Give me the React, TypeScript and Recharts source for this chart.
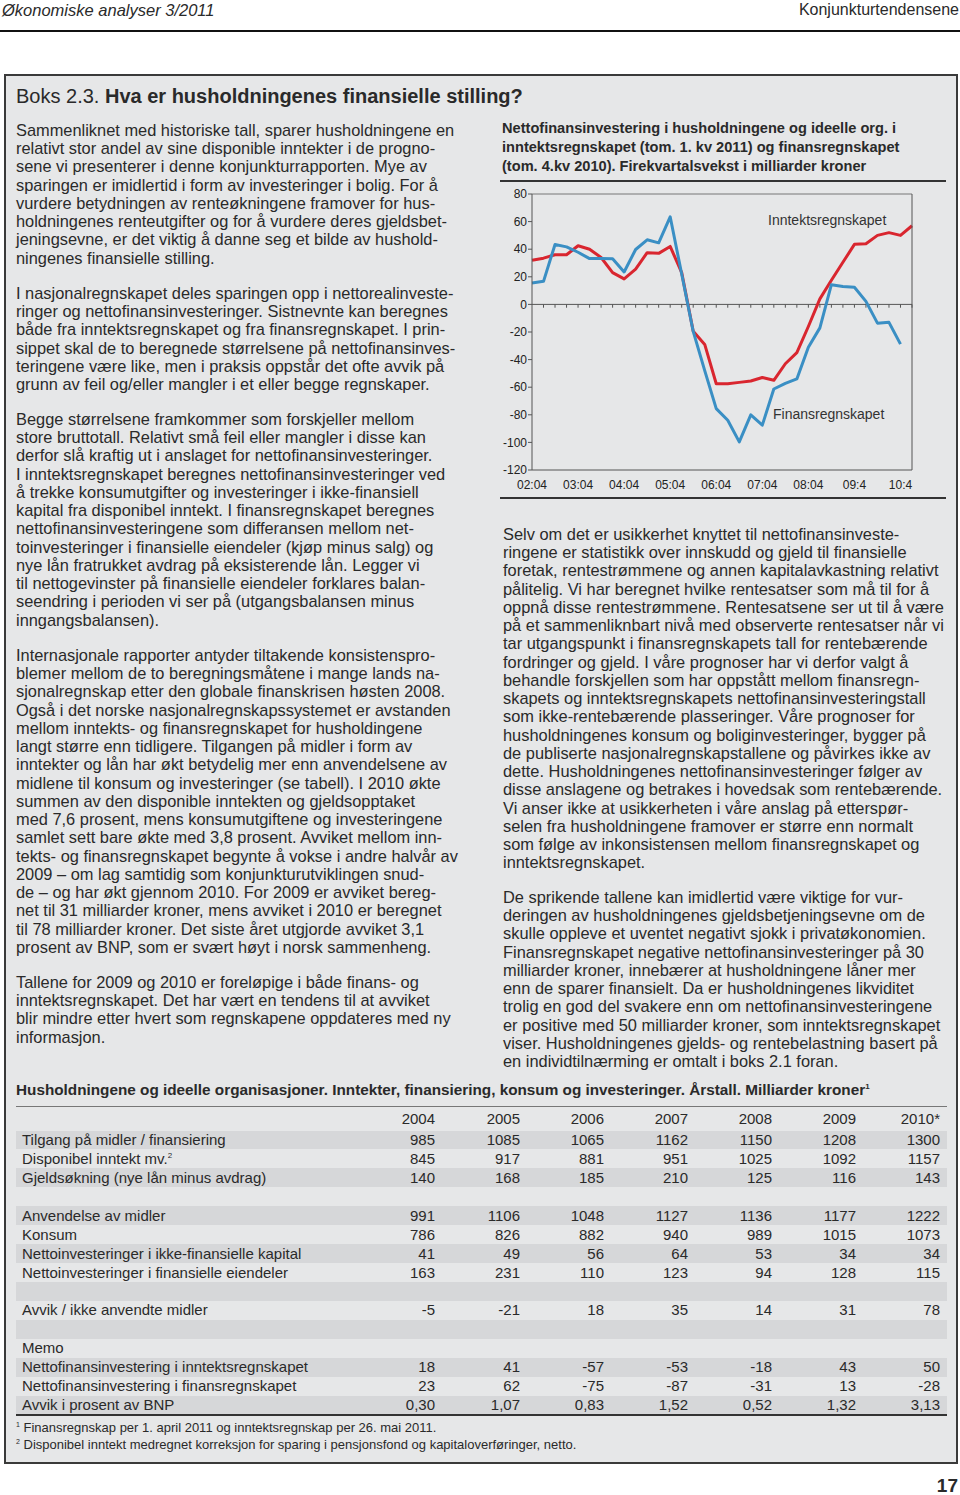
import React from 'react';
import { LineChart, Line, XAxis, YAxis, ReferenceLine } from 'recharts';

const xTickLabels = ['02:04', '03:04', '04:04', '05:04', '06:04', '07:04', '08:04', '09:4', '10:4'];
const inntektsregnskapet = [32, 33.5, 36, 36, 42.5, 40, 34, 23, 18.5, 25.5, 37.5, 37, 42, 23, -19.5, -29, -57.5, -57.5, -56.5, -55.5, -53, -55, -43, -35, -16, 4, 17.5, 30.5, 43.5, 44, 50, 52, 50, 57];
const finansregnskapet = [15.5, 16.7, 43.4, 41.7, 37.8, 33.2, 33.2, 33, 23.5, 39.8, 46.8, 44.6, 63.5, 22, -19.6, -48, -75.5, -84, -99.6, -80, -87.5, -61.3, -57.2, -54, -31, -17, 14.3, 13, 12.4, 2.2, -13.6, -13, -28.8];
const yTicks = [-120, -100, -80, -60, -40, -20, 0, 20, 40, 60, 80];

const chartData = inntektsregnskapet.map((v, i) => ({
  i,
  inntekt: v,
  finans: i < finansregnskapet.length ? finansregnskapet[i] : null,
}));
const xTicks = xTickLabels.map((_, k) => k * 4);
const zeroTicks = chartData.map((d) => d.i).filter((i) => i > 0);

const leftParas: string[][] = [
  [
    'Sammenliknet med historiske tall, sparer husholdningene en',
    'relativt stor andel av sine disponible inntekter i de progno-',
    'sene vi presenterer i denne konjunkturrapporten. Mye av',
    'sparingen er imidlertid i form av investeringer i bolig. For å',
    'vurdere betydningen av renteøkningene framover for hus-',
    'holdningenes renteutgifter og for å vurdere deres gjeldsbet-',
    'jeningsevne, er det viktig å danne seg et bilde av hushold-',
    'ningenes finansielle stilling.',
  ],
  [
    'I nasjonalregnskapet deles sparingen opp i nettorealinveste-',
    'ringer og nettofinansinvesteringer. Sistnevnte kan beregnes',
    'både fra inntektsregnskapet og fra finansregnskapet. I prin-',
    'sippet skal de to beregnede størrelsene på nettofinansinves-',
    'teringene være like, men i praksis oppstår det ofte avvik på',
    'grunn av feil og/eller mangler i et eller begge regnskaper.',
  ],
  [
    'Begge størrelsene framkommer som forskjeller mellom',
    'store bruttotall. Relativt små feil eller mangler i disse kan',
    'derfor slå kraftig ut i anslaget for nettofinansinvesteringer.',
    'I inntektsregnskapet beregnes nettofinansinvesteringer ved',
    'å trekke konsumutgifter og investeringer i ikke-finansiell',
    'kapital fra disponibel inntekt. I finansregnskapet beregnes',
    'nettofinansinvesteringene som differansen mellom net-',
    'toinvesteringer i finansielle eiendeler (kjøp minus salg) og',
    'nye lån fratrukket avdrag på eksisterende lån. Legger vi',
    'til nettogevinster på finansielle eiendeler forklares balan-',
    'seendring i perioden vi ser på (utgangsbalansen minus',
    'inngangsbalansen).',
  ],
  [
    'Internasjonale rapporter antyder tiltakende konsistenspro-',
    'blemer mellom de to beregningsmåtene i mange lands na-',
    'sjonalregnskap etter den globale finanskrisen høsten 2008.',
    'Også i det norske nasjonalregnskapssystemet er avstanden',
    'mellom inntekts- og finansregnskapet for husholdingene',
    'langt større enn tidligere. Tilgangen på midler i form av',
    'inntekter og lån har økt betydelig mer enn anvendelsene av',
    'midlene til konsum og investeringer (se tabell). I 2010 økte',
    'summen av den disponible inntekten og gjeldsopptaket',
    'med 7,6 prosent, mens konsumutgiftene og investeringene',
    'samlet sett bare økte med 3,8 prosent. Avviket mellom inn-',
    'tekts- og finansregnskapet begynte å vokse i andre halvår av',
    '2009 – om lag samtidig som konjunkturutviklingen snud-',
    'de – og har økt gjennom 2010. For 2009 er avviket bereg-',
    'net til 31 milliarder kroner, mens avviket i 2010 er beregnet',
    'til 78 milliarder kroner. Det siste året utgjorde avviket 3,1',
    'prosent av BNP, som er svært høyt i norsk sammenheng.',
  ],
  [
    'Tallene for 2009 og 2010 er foreløpige i både finans- og',
    'inntektsregnskapet. Det har vært en tendens til at avviket',
    'blir mindre etter hvert som regnskapene oppdateres med ny',
    'informasjon.',
  ],
];
const leftParaTops = [130, 293, 419, 655, 982];

const rightParas: string[][] = [
  [
    'Selv om det er usikkerhet knyttet til nettofinansinveste-',
    'ringene er statistikk over innskudd og gjeld til finansielle',
    'foretak, rentestrømmene og annen kapitalavkastning relativt',
    'pålitelig. Vi har beregnet hvilke rentesatser som må til for å',
    'oppnå disse rentestrømmene. Rentesatsene ser ut til å være',
    'på et sammenliknbart nivå med observerte rentesatser når vi',
    'tar utgangspunkt i finansregnskapets tall for rentebærende',
    'fordringer og gjeld. I våre prognoser har vi derfor valgt å',
    'behandle forskjellen som har oppstått mellom finansregn-',
    'skapets og inntektsregnskapets nettofinansinvesteringstall',
    'som ikke-rentebærende plasseringer. Våre prognoser for',
    'husholdningenes konsum og boliginvesteringer, bygger på',
    'de publiserte nasjonalregnskapstallene og påvirkes ikke av',
    'dette. Husholdningenes nettofinansinvesteringer følger av',
    'disse anslagene og betrakes i hovedsak som rentebærende.',
    'Vi anser ikke at usikkerheten i våre anslag på etterspør-',
    'selen fra husholdningene framover er større enn normalt',
    'som følge av inkonsistensen mellom finansregnskapet og',
    'inntektsregnskapet.',
  ],
  [
    'De sprikende tallene kan imidlertid være viktige for vur-',
    'deringen av husholdningenes gjeldsbetjeningsevne om de',
    'skulle oppleve et uventet negativt sjokk i privatøkonomien.',
    'Finansregnskapet negative nettofinansinvesteringer på 30',
    'milliarder kroner, innebærer at husholdningene låner mer',
    'enn de sparer finansielt. Da er husholdningenes likviditet',
    'trolig en god del svakere enn om nettofinansinvesteringene',
    'er positive med 50 milliarder kroner, som inntektsregnskapet',
    'viser. Husholdningenes gjelds- og rentebelastning basert på',
    'en individtilnærming er omtalt i boks 2.1 foran.',
  ],
];
const rightParaTops = [534, 897];

const tableYears = ['2004', '2005', '2006', '2007', '2008', '2009', '2010*'];
type Row = { label: string; sup?: string; values: string[] };
const tableRows: Row[] = [
  { label: 'Tilgang på midler / finansiering', values: ['985', '1085', '1065', '1162', '1150', '1208', '1300'] },
  { label: 'Disponibel inntekt mv.', sup: '2', values: ['845', '917', '881', '951', '1025', '1092', '1157'] },
  { label: 'Gjeldsøkning (nye lån minus avdrag)', values: ['140', '168', '185', '210', '125', '116', '143'] },
  { label: '', values: [] },
  { label: 'Anvendelse av midler', values: ['991', '1106', '1048', '1127', '1136', '1177', '1222'] },
  { label: 'Konsum', values: ['786', '826', '882', '940', '989', '1015', '1073'] },
  { label: 'Nettoinvesteringer i ikke-finansielle kapital', values: ['41', '49', '56', '64', '53', '34', '34'] },
  { label: 'Nettoinvesteringer i finansielle eiendeler', values: ['163', '231', '110', '123', '94', '128', '115'] },
  { label: '', values: [] },
  { label: 'Avvik / ikke anvendte midler', values: ['-5', '-21', '18', '35', '14', '31', '78'] },
  { label: '', values: [] },
  { label: 'Memo', values: [] },
  { label: 'Nettofinansinvestering i inntektsregnskapet', values: ['18', '41', '-57', '-53', '-18', '43', '50'] },
  { label: 'Nettofinansinvestering i finansregnskapet', values: ['23', '62', '-75', '-87', '-31', '13', '-28'] },
  { label: 'Avvik i prosent av BNP', values: ['0,30', '1,07', '0,83', '1,52', '0,52', '1,32', '3,13'] },
];
const colRight = [435, 520, 604, 688, 772, 856, 940];

const FONT = '"Liberation Sans", Arial, sans-serif';
const TEXT = '#2a2a2a';
const BOX_BG = '#e6e7e8';
const BAND = '#d6d7d9';
const RED = '#d9262f';
const BLUE = '#3a8fc4';
const AXIS = '#555';
const LH = 18.25;

function Sup({ children, size }: { children: React.ReactNode; size: number }) {
  return (
    <span style={{ fontSize: size, position: 'relative', top: -size * 0.7, lineHeight: 0, verticalAlign: 'baseline' }}>{children}</span>
  );
}

function Para({ lines, left, centerY }: { lines: string[]; left: number; centerY: number }) {
  return (
    <div style={{ position: 'absolute', left, top: centerY - LH / 2, lineHeight: LH + 'px', fontSize: 16.4 }}>
      {lines.map((l, k) => (
        <div key={k} style={{ whiteSpace: 'nowrap', height: LH }}>{l}</div>
      ))}
    </div>
  );
}

export default function App() {
  const rowH = 18.93;
  const firstRowCenter = 1140;
  return (
    <div style={{ position: 'absolute', left: 0, top: 0, width: 960, height: 1495, overflow: 'hidden', background: '#fff', fontFamily: FONT, color: TEXT }}>
      {/* page header */}
      <div style={{ position: 'absolute', left: 2, top: 0, fontSize: 16.5, fontStyle: 'italic', lineHeight: '20px' }}>Økonomiske analyser 3/2011</div>
      <div style={{ position: 'absolute', right: 1, top: 0, fontSize: 16, lineHeight: '20px' }}>Konjunkturtendensene</div>
      <div style={{ position: 'absolute', left: 0, top: 30, width: 960, height: 2, background: '#111' }} />

      {/* box */}
      <div style={{ position: 'absolute', left: 4, top: 74, width: 950, height: 1386, background: BOX_BG, border: '2px solid #3a3a3a' }} />
      <div style={{ position: 'absolute', left: 16, top: 83, fontSize: 20, lineHeight: '26px', whiteSpace: 'nowrap' }}>
        Boks 2.3. <b>Hva er husholdningenes finansielle stilling?</b>
      </div>

      {leftParas.map((p, k) => (
        <Para key={'l' + k} lines={p} left={16} centerY={leftParaTops[k]} />
      ))}
      {rightParas.map((p, k) => (
        <Para key={'r' + k} lines={p} left={503} centerY={rightParaTops[k]} />
      ))}

      {/* chart title */}
      <div style={{ position: 'absolute', left: 502, top: 119, fontSize: 14.6, fontWeight: 'bold', lineHeight: '19px', whiteSpace: 'nowrap' }}>
        <div>Nettofinansinvestering i husholdningene og ideelle org. i</div>
        <div>inntektsregnskapet (tom. 1. kv 2011) og finansregnskapet</div>
        <div>(tom. 4.kv 2010). Firekvartalsvekst i milliarder kroner</div>
      </div>
      <div style={{ position: 'absolute', left: 500, top: 180, width: 446, height: 1.5, background: '#333' }} />
      <div style={{ position: 'absolute', left: 500, top: 497, width: 446, height: 1.5, background: '#333' }} />

      <div style={{ position: 'absolute', left: 500, top: 180 }}>
        <LineChart width={450} height={320} data={chartData} margin={{ top: 14, right: 0, bottom: 0, left: 0 }}>
          <XAxis
            dataKey="i"
            type="number"
            domain={[0, 33]}
            ticks={xTicks}
            tickFormatter={(v: number) => xTickLabels[v / 4]}
            tickLine={false}
            axisLine={{ stroke: AXIS, strokeWidth: 1 }}
            tick={{ fontSize: 12, fill: '#222', fontFamily: FONT }}
            tickMargin={4}
            height={30}
            interval={0}
          />
          <YAxis
            yAxisId="left"
            domain={[-120, 80]}
            ticks={yTicks}
            interval={0}
            width={32}
            tickSize={4}
            tickLine={{ stroke: AXIS }}
            axisLine={{ stroke: AXIS }}
            tick={{ fontSize: 12, fill: '#222', fontFamily: FONT }}
            tickMargin={1}
          />
          <YAxis
            yAxisId="right"
            orientation="right"
            domain={[-120, 80]}
            ticks={yTicks}
            interval={0}
            width={38}
            tickSize={4}
            tickLine={{ stroke: AXIS }}
            axisLine={{ stroke: AXIS }}
            tick={{ fontSize: 12, fill: '#222', fontFamily: FONT }}
            tickMargin={1}
          />
          <ReferenceLine yAxisId="left" y={80} stroke="#777" strokeWidth={1} />
          <ReferenceLine yAxisId="left" y={0} stroke={AXIS} strokeWidth={1} />
          {zeroTicks.map((i) => (
            <ReferenceLine
              key={'zt' + i}
              yAxisId="left"
              segment={[{ x: i, y: 0 }, { x: i, y: -2.4 }]}
              stroke={AXIS}
              strokeWidth={1}
            />
          ))}
          <Line yAxisId="left" type="linear" dataKey="inntekt" stroke={RED} strokeWidth={3} dot={false} isAnimationActive={false} strokeLinejoin="round" />
          <Line yAxisId="left" type="linear" dataKey="finans" stroke={BLUE} strokeWidth={3} dot={false} isAnimationActive={false} strokeLinejoin="round" connectNulls={false} />
        </LineChart>
      </div>
      <div style={{ position: 'absolute', left: 768, top: 212, fontSize: 14, color: '#333', whiteSpace: 'nowrap' }}>Inntektsregnskapet</div>
      <div style={{ position: 'absolute', left: 773, top: 406, fontSize: 14, color: '#333', whiteSpace: 'nowrap' }}>Finansregnskapet</div>

      {/* table */}
      <div style={{ position: 'absolute', left: 16, top: 1080, fontSize: 15.3, fontWeight: 'bold', lineHeight: '20px', whiteSpace: 'nowrap' }}>
        Husholdningene og ideelle organisasjoner. Inntekter, finansiering, konsum og investeringer. Årstall. Milliarder kroner<Sup size={8}>1</Sup>
      </div>
      <div style={{ position: 'absolute', left: 16, top: 1106, width: 931, height: 1, background: '#777' }} />
      {tableYears.map((y, k) => (
        <div key={'y' + k} style={{ position: 'absolute', left: colRight[k] - 80, width: 80, top: 1119 - 9, textAlign: 'right', fontSize: 15, lineHeight: '18px' }}>{y}</div>
      ))}
      {tableRows.map((r, idx) => {
        const cy = firstRowCenter + idx * rowH;
        return (
          <React.Fragment key={'row' + idx}>
            {idx % 2 === 0 && (
              <div style={{ position: 'absolute', left: 16, width: 931, top: cy - rowH / 2, height: rowH, background: BAND }} />
            )}
            <div style={{ position: 'absolute', left: 22, top: cy - 9, fontSize: 15, lineHeight: '18px', whiteSpace: 'nowrap' }}>
              {r.label}
              {r.sup && <Sup size={8}>{r.sup}</Sup>}
            </div>
            {r.values.map((v, k) => (
              <div key={k} style={{ position: 'absolute', left: colRight[k] - 80, width: 80, top: cy - 9, textAlign: 'right', fontSize: 15, lineHeight: '18px' }}>{v}</div>
            ))}
          </React.Fragment>
        );
      })}
      <div style={{ position: 'absolute', left: 16, top: 1414, width: 931, height: 1.5, background: '#333' }} />
      <div style={{ position: 'absolute', left: 16, top: 1420, fontSize: 13, lineHeight: '16px', whiteSpace: 'nowrap' }}>
        <Sup size={7}>1</Sup> Finansregnskap per 1. april 2011 og inntektsregnskap per 26. mai 2011.
      </div>
      <div style={{ position: 'absolute', left: 16, top: 1437, fontSize: 13, lineHeight: '16px', whiteSpace: 'nowrap' }}>
        <Sup size={7}>2</Sup> Disponibel inntekt medregnet korreksjon for sparing i pensjonsfond og kapitaloverføringer, netto.
      </div>

      <div style={{ position: 'absolute', right: 2, top: 1476, fontSize: 19, fontWeight: 'bold', lineHeight: '19px' }}>17</div>
    </div>
  );
}
